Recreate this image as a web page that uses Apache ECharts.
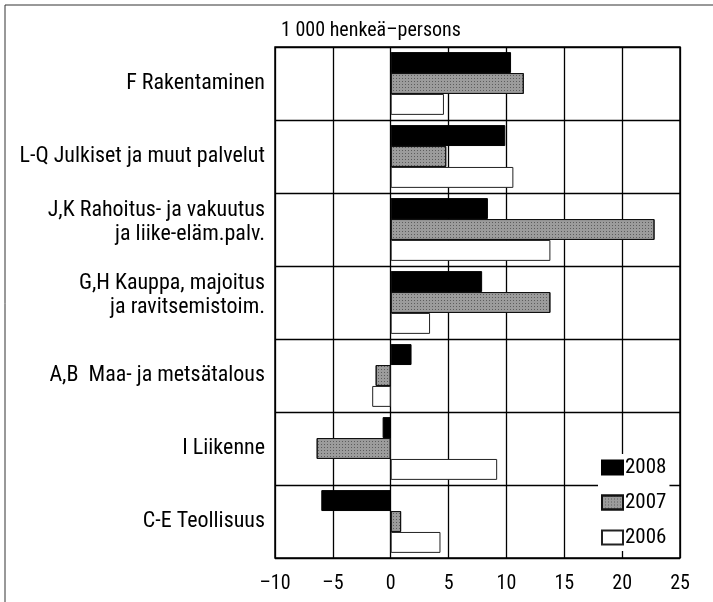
<!DOCTYPE html>
<html>
<head>
<meta charset="utf-8">
<script src="https://cdn.jsdelivr.net/npm/echarts@6/dist/echarts.min.js"></script>
<style>html,body{margin:0;padding:0;background:#fff;}#c{width:713px;height:602px;}</style>
</head>
<body>
<div id="c"></div>
<script>
const categories = [
  'F Rakentaminen',
  'L-Q Julkiset ja muut palvelut',
  'J,K Rahoitus- ja vakuutus\nja liike-eläm.palv.',
  'G,H Kauppa, majoitus\nja ravitsemistoim.',
  'A,B  Maa- ja metsätalous',
  'I Liikenne',
  'C-E Teollisuus'
];
const seriesNames = ['2008', '2007', '2006'];
const values2008 = [10.4, 9.9, 8.4, 7.9, 1.8, -0.7, -6.0];
const values2007 = [11.5, 4.8, 22.8, 13.8, -1.3, -6.4, 0.9];
const values2006 = [4.6, 10.6, 13.8, 3.4, -1.6, 9.2, 4.3];
const xTicks = { min: -10, max: 25, interval: 5 };
const unitTitle = '1 000 henkeä–persons';

const FONT = "'Roboto Condensed', 'Liberation Sans', sans-serif";
const chart = echarts.init(document.getElementById('c'), null, { renderer: 'canvas' });

const styles = [
  { color: '#000', borderColor: '#000', borderWidth: 1 },
  { color: '#9c9c9c', borderColor: '#111', borderWidth: 1,
    decal: { symbol: 'rect', symbolSize: 1, dashArrayX: [[1, 2]], dashArrayY: [1, 2], color: 'rgba(30,30,30,0.5)' } },
  { color: '#fff', borderColor: '#222', borderWidth: 1 }
];
const allValues = [values2008, values2007, values2006];

chart.setOption({
  animation: false,
  backgroundColor: '#fff',
  textStyle: { fontFamily: FONT },
  title: {
    text: unitTitle, left: 281, top: 21, padding: 0,
    textStyle: { fontFamily: FONT, fontSize: 20, fontWeight: 'normal', color: '#000' }
  },
  grid: {
    left: 275, right: 33, top: 47, bottom: 44,
    show: true, borderColor: '#000', borderWidth: 1.5, containLabel: false
  },
  legend: {
    orient: 'vertical', left: 598, top: 454, padding: [3, 3, 3, 3],
    backgroundColor: '#fff', itemWidth: 21, itemHeight: 14, itemGap: 14,
    icon: 'rect',
    textStyle: { fontFamily: FONT, fontSize: 21, color: '#000', padding: [0, 0, 0, -3] },
    data: seriesNames
  },
  xAxis: {
    type: 'value', min: xTicks.min, max: xTicks.max, interval: xTicks.interval,
    axisLine: { show: false }, axisTick: { show: false },
    splitLine: { show: true, lineStyle: { color: '#000', width: 1.3 } },
    axisLabel: {
      margin: 16, color: '#000', fontSize: 20, fontFamily: FONT,
      formatter: v => v < 0 ? '\u2013' + Math.abs(v) : String(v)
    }
  },
  yAxis: {
    type: 'category', inverse: true, data: categories,
    axisLine: { show: false }, axisTick: { show: false },
    splitLine: { show: true, lineStyle: { color: '#000', width: 1.3 } },
    axisLabel: {
      margin: 10, color: '#000', fontSize: 22, fontFamily: FONT, lineHeight: 24, align: 'right',
      formatter: v => v.indexOf('\n') >= 0 ? v + '\n{gap| }' : v,
      rich: { gap: { fontSize: 2, lineHeight: 14, height: 14 } }
    }
  },
  graphic: [
    { type: 'line', shape: { x1: 5, y1: 5, x2: 713, y2: 5 }, style: { stroke: '#333', lineWidth: 1 } },
    { type: 'line', shape: { x1: 5, y1: 5, x2: 5, y2: 602 }, style: { stroke: '#333', lineWidth: 1 } }
  ],
  series: seriesNames.map((name, i) => ({
    name, type: 'bar', data: allValues[i],
    barCategoryGap: '14%', barGap: '0%',
    itemStyle: styles[i]
  }))
});
</script>
</body>
</html>
